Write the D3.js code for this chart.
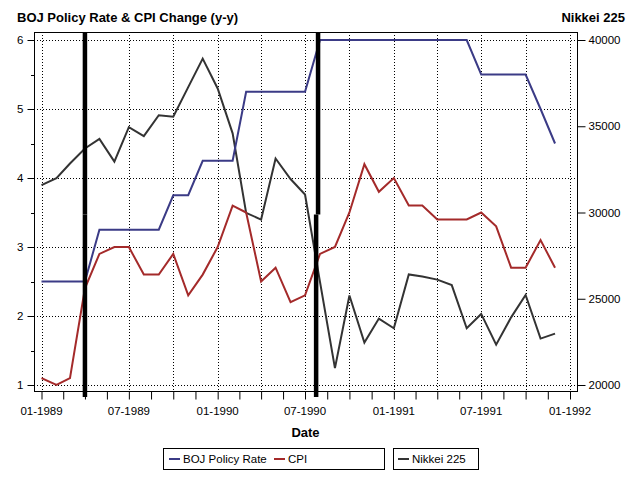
<!DOCTYPE html>
<html>
<head>
<meta charset="utf-8">
<script src="https://cdn.jsdelivr.net/npm/d3@7"></script>
<style>
  body { margin: 0; background: #fff; }
  text { font-family: "Liberation Sans", Arial, sans-serif; }
</style>
</head>
<body>
<div id="root"></div>
<script>
const width = 639;
const height = 480;

const months = [
  "1989-01","1989-02","1989-03","1989-04","1989-05","1989-06","1989-07","1989-08","1989-09","1989-10","1989-11","1989-12",
  "1990-01","1990-02","1990-03","1990-04","1990-05","1990-06","1990-07","1990-08","1990-09","1990-10","1990-11","1990-12",
  "1991-01","1991-02","1991-03","1991-04","1991-05","1991-06","1991-07","1991-08","1991-09","1991-10","1991-11","1991-12"
];
const bojRate = [2.5, 2.5, 2.5, 2.5, 3.25, 3.25, 3.25, 3.25, 3.25, 3.75, 3.75, 4.25,
  4.25, 4.25, 5.25, 5.25, 5.25, 5.25, 5.25, 6, 6, 6, 6, 6,
  6, 6, 6, 6, 6, 6, 5.5, 5.5, 5.5, 5.5, 5, 4.5];
const cpi = [1.1, 1.0, 1.1, 2.4, 2.9, 3.0, 3.0, 2.6, 2.6, 2.9, 2.3, 2.6,
  3.0, 3.6, 3.5, 2.5, 2.7, 2.2, 2.3, 2.9, 3.0, 3.5, 4.2, 3.8,
  4.0, 3.6, 3.6, 3.4, 3.4, 3.4, 3.5, 3.3, 2.7, 2.7, 3.1, 2.7];
const nikkei = [31590, 31990, 32840, 33710, 34270, 32950, 34950, 34430, 35640, 35550, 37270, 38920,
  37190, 34590, 29980, 29590, 33130, 31940, 31040, 25980, 20980, 25190, 22460, 23850,
  23290, 26410, 26290, 26110, 25790, 23290, 24120, 22340, 23920, 25220, 22690, 22980];

const leftTicks = [1, 2, 3, 4, 5, 6];
const leftMinor = [1.5, 2.5, 3.5, 4.5, 5.5];
const rightTicks = [20000, 25000, 30000, 35000, 40000];
// thick event markers (top half / bottom half dates)
const eventLines = [
  { top: "1989-04-01", bottom: "1989-04-01" },
  { top: "1990-07-28", bottom: "1990-07-24" }
];
const seriesNames = ["BOJ Policy Rate", "CPI", "Nikkei 225"];
const seriesColors = ["#3b3b86", "#a42a2a", "#333333"];

const frame = { left: 34, right: 577, top: 32, bottom: 391 };

const parse = d3.timeParse("%Y-%m");
const parseDay = d3.timeParse("%Y-%m-%d");
const dates = months.map(parse);

const x = d3.scaleTime()
  .domain([new Date(1989, 0, 1), new Date(1992, 0, 1)])
  .range([41.5, 570]);
const y = d3.scaleLinear().domain([1, 6]).range([385, 40]);
const y2 = d3.scaleLinear().domain([20000, 40000]).range([385, 40]);

const svg = d3.select("#root").append("svg")
  .attr("width", width)
  .attr("height", height);

// quarter ticks plus the midpoints between them
const quarters = d3.timeMonth.every(3).range(new Date(1989, 0, 1), new Date(1992, 0, 2));
const xTicks = [];
quarters.forEach((q, i) => {
  xTicks.push(q);
  if (i < quarters.length - 1) xTicks.push(new Date((+q + +quarters[i + 1]) / 2));
});
const labelTicks = d3.timeMonth.every(6).range(new Date(1989, 0, 1), new Date(1992, 0, 2));

// grid
svg.append("g").selectAll("line")
  .data(quarters)
  .enter()
  .append("line")
  .attr("x1", d => Math.round(x(d)) + 0.5)
  .attr("x2", d => Math.round(x(d)) + 0.5)
  .attr("y1", frame.top)
  .attr("y2", frame.bottom)
  .attr("stroke", "#000")
  .attr("stroke-dasharray", "1,2");

svg.append("g").selectAll("line")
  .data(leftTicks)
  .enter()
  .append("line")
  .attr("x1", frame.left)
  .attr("x2", frame.right)
  .attr("y1", d => Math.round(y(d)) + 0.5)
  .attr("y2", d => Math.round(y(d)) + 0.5)
  .attr("stroke", "#000")
  .attr("stroke-dasharray", "1,2");

// series lines
const lineLeft = d3.line().x((d, i) => x(dates[i])).y(d => y(d));
const lineRight = d3.line().x((d, i) => x(dates[i])).y(d => y2(d));

svg.append("path").datum(nikkei)
  .attr("d", lineRight)
  .attr("fill", "none")
  .attr("stroke", seriesColors[2])
  .attr("stroke-width", 2);

svg.append("path").datum(bojRate)
  .attr("d", lineLeft)
  .attr("fill", "none")
  .attr("stroke", seriesColors[0])
  .attr("stroke-width", 2);

svg.append("path").datum(cpi)
  .attr("d", lineLeft)
  .attr("fill", "none")
  .attr("stroke", seriesColors[1])
  .attr("stroke-width", 2);

// frame
svg.append("rect")
  .attr("x", frame.left + 0.5)
  .attr("y", frame.top + 0.5)
  .attr("width", frame.right - frame.left)
  .attr("height", frame.bottom - frame.top)
  .attr("fill", "none")
  .attr("stroke", "#000");

// left axis
const la = svg.append("g").attr("transform", "translate(" + (frame.left + 0.5) + ",0)")
  .call(d3.axisLeft(y).tickValues(leftTicks).tickSize(7).tickPadding(4).tickFormat(d3.format("d")));
la.select(".domain").remove();
la.selectAll("text").attr("font-size", "11.5px").attr("font-family", "Liberation Sans, Arial").attr("fill", "#000");
svg.append("g").selectAll("line")
  .data(leftMinor)
  .enter()
  .append("line")
  .attr("x1", frame.left - 3)
  .attr("x2", frame.left)
  .attr("y1", d => Math.round(y(d)) + 0.5)
  .attr("y2", d => Math.round(y(d)) + 0.5)
  .attr("stroke", "#000");

// right axis
const ra = svg.append("g").attr("transform", "translate(" + (frame.right + 0.5) + ",0)")
  .call(d3.axisRight(y2).tickValues(rightTicks).tickSize(8).tickPadding(3).tickFormat(d3.format("d")));
ra.select(".domain").remove();
ra.selectAll("text").attr("font-size", "11.5px").attr("font-family", "Liberation Sans, Arial").attr("fill", "#000");

// bottom axis
const ba = svg.append("g").attr("transform", "translate(0," + (frame.bottom + 0.5) + ")")
  .call(d3.axisBottom(x).tickValues(xTicks).tickSize(8).tickFormat(""));
ba.select(".domain").remove();
svg.append("g").selectAll("text")
  .data(labelTicks)
  .enter()
  .append("text")
  .attr("x", d => x(d))
  .attr("y", 415)
  .attr("text-anchor", "middle")
  .attr("font-size", "11.5px")
  .text(d3.timeFormat("%m-%Y"));

// thick event lines
const midY = (frame.top + frame.bottom + 6) / 2;
eventLines.forEach(ev => {
  svg.append("line")
    .attr("x1", x(parseDay(ev.top))).attr("x2", x(parseDay(ev.top)))
    .attr("y1", frame.top).attr("y2", midY)
    .attr("stroke", "#000").attr("stroke-width", 4.5);
  svg.append("line")
    .attr("x1", x(parseDay(ev.bottom))).attr("x2", x(parseDay(ev.bottom)))
    .attr("y1", midY).attr("y2", frame.bottom + 6)
    .attr("stroke", "#000").attr("stroke-width", 4.5);
});

// titles
svg.append("text")
  .attr("x", 17).attr("y", 22)
  .attr("font-size", "13px").attr("font-weight", "bold")
  .text("BOJ Policy Rate & CPI Change (y-y)");
svg.append("text")
  .attr("x", 625).attr("y", 22)
  .attr("text-anchor", "end")
  .attr("font-size", "13px").attr("font-weight", "bold")
  .text("Nikkei 225");
svg.append("text")
  .attr("x", (frame.left + frame.right) / 2).attr("y", 437)
  .attr("text-anchor", "middle")
  .attr("font-size", "13px").attr("font-weight", "bold")
  .text("Date");

// legend
const legendBoxes = [
  { x: 163.5, w: 221, items: [0, 1] },
  { x: 393.5, w: 85, items: [2] }
];
const legendItemX = [169, 274, 398];
legendBoxes.forEach(b => {
  svg.append("rect")
    .attr("x", b.x).attr("y", 448.5)
    .attr("width", b.w).attr("height", 21)
    .attr("fill", "none").attr("stroke", "#000");
});
const legend = svg.append("g").attr("id", "legend");
legend.selectAll("line")
  .data(seriesNames)
  .enter()
  .append("line")
  .attr("x1", (d, i) => legendItemX[i])
  .attr("x2", (d, i) => legendItemX[i] + 11)
  .attr("y1", 459)
  .attr("y2", 459)
  .attr("stroke", (d, i) => seriesColors[i])
  .attr("stroke-width", 2);
legend.selectAll("text")
  .data(seriesNames)
  .enter()
  .append("text")
  .attr("x", (d, i) => legendItemX[i] + 14)
  .attr("y", 463)
  .attr("font-size", "11.5px")
  .text(d => d);
</script>
</body>
</html>
